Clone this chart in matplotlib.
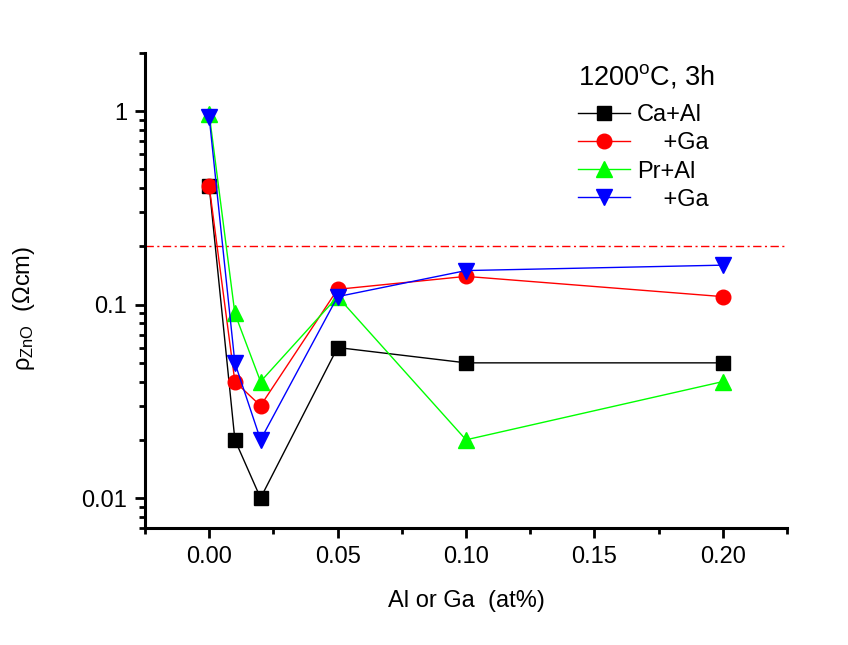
import matplotlib
matplotlib.use("Agg")
import matplotlib.pyplot as plt
from matplotlib.ticker import FixedLocator, LogLocator, NullFormatter, FixedFormatter

plt.rcParams['font.family'] = ['Liberation Sans', 'DejaVu Sans']
plt.rcParams['mathtext.fontset'] = 'custom'
plt.rcParams['mathtext.rm'] = 'Liberation Sans'
plt.rcParams['mathtext.it'] = 'Liberation Sans'

x = [0.0, 0.01, 0.02, 0.05, 0.10, 0.20]
ca_al = [0.41, 0.02, 0.01, 0.06, 0.05, 0.05]
ca_ga = [0.41, 0.04, 0.03, 0.12, 0.14, 0.11]
pr_al = [0.97, 0.09, 0.04, 0.11, 0.02, 0.04]
pr_ga = [0.93, 0.05, 0.02, 0.11, 0.15, 0.16]
threshold = 0.2

labels = ["Ca+Al", "    +Ga", "Pr+Al", "    +Ga"]
xticks = [0.00, 0.05, 0.10, 0.15, 0.20]
xticklabels = ["0.00", "0.05", "0.10", "0.15", "0.20"]
yticks = [0.01, 0.1, 1]
yticklabels = ["0.01", "0.1", "1"]

fig = plt.figure(figsize=(8.48, 6.45), dpi=100)
ax = fig.add_axes([145/848, 1-528/645, (787-145)/848, (528-53)/645])

ax.axhline(threshold, color='red', lw=1, linestyle=(0, (6, 2.5, 1.5, 2.5)), zorder=1)

ax.plot(x, ca_al, color='black', lw=1, marker='s', ms=9.5, label=labels[0], zorder=3)
ax.plot(x, ca_ga, color='red', lw=1, marker='o', ms=10.5, label=labels[1], zorder=3)
ax.plot(x, pr_al, color='#00ff00', lw=1, marker='^', ms=11, label=labels[2], zorder=3)
ax.plot(x, pr_ga, color='blue', lw=1, marker='v', ms=11, label=labels[3], zorder=3)

ax.set_yscale('log')
ax.set_xlim(-0.025, 0.225)
ax.set_ylim(0.007, 2)

ax.xaxis.set_major_locator(FixedLocator(xticks))
ax.xaxis.set_major_formatter(FixedFormatter(xticklabels))
ax.xaxis.set_minor_locator(FixedLocator([-0.025, 0.025, 0.075, 0.125, 0.175, 0.225]))
ax.yaxis.set_major_locator(FixedLocator(yticks))
ax.yaxis.set_major_formatter(FixedFormatter(yticklabels))
ax.yaxis.set_minor_locator(LogLocator(base=10, subs=range(2, 10)))
ax.yaxis.set_minor_formatter(NullFormatter())

for s in ['top', 'right']:
    ax.spines[s].set_visible(False)
for s in ['left', 'bottom']:
    ax.spines[s].set_linewidth(2.2)

ax.tick_params(which='major', direction='out', length=7, width=2, labelsize=17, pad=6)
ax.tick_params(which='minor', direction='out', length=4, width=2)

ax.set_xlabel("Al or Ga  (at%)", fontsize=17, labelpad=16)
ax.set_ylabel(r"$\mathregular{ρ_{ZnO}}$  (Ωcm)", fontsize=17)
ax.yaxis.set_label_coords(-0.168, 0.463)

leg = ax.legend(loc='upper left', bbox_to_anchor=(0.66, 1.0), frameon=False,
                title="1200$\\mathregular{^o}$C, 3h", title_fontsize=19.5, fontsize=17,
                handlelength=2.2, handletextpad=0.3, labelspacing=0.26,
                alignment='left', borderaxespad=0.0)
leg._legend_box.sep = 10

fig.savefig("out.png", dpi=100)
